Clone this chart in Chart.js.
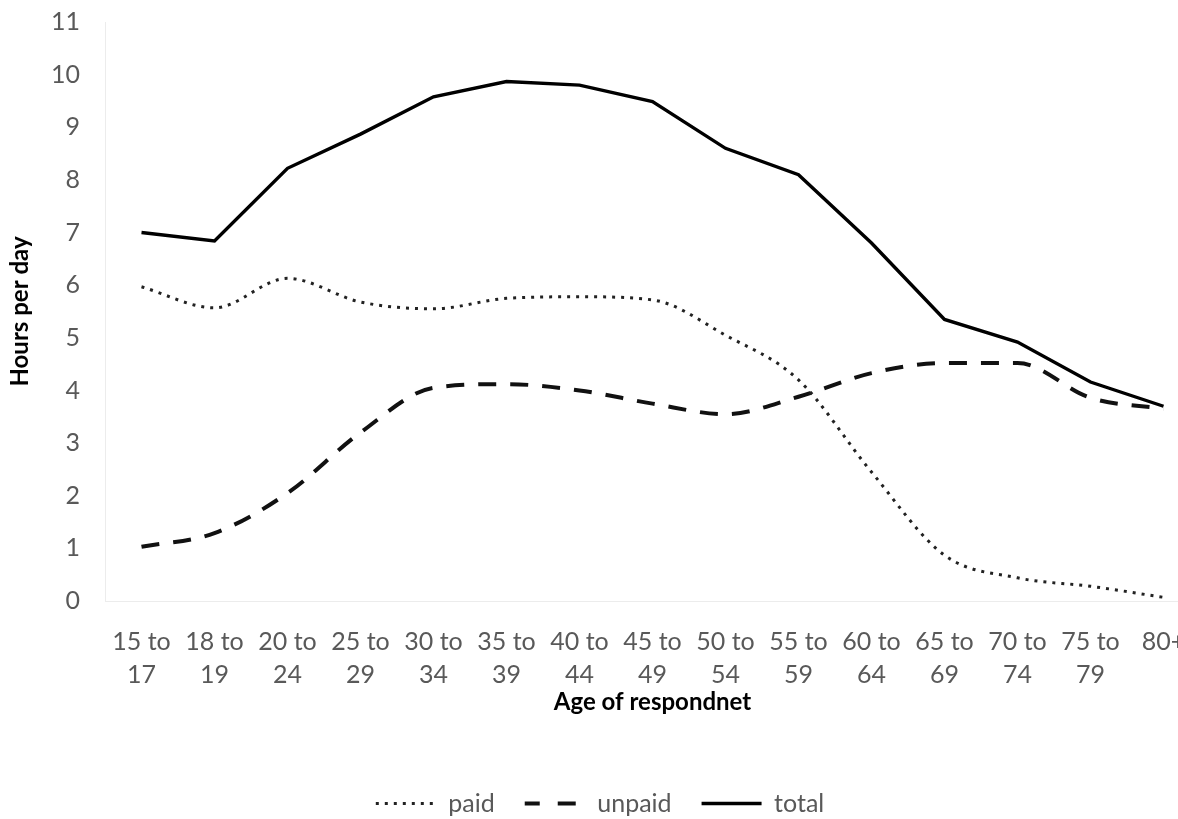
<!DOCTYPE html>
<html>
<head>
<meta charset="utf-8">
<script src="https://cdn.jsdelivr.net/npm/chart.js@4/dist/chart.umd.min.js"></script>
<style>
  html, body { margin: 0; padding: 0; background: #fff; overflow: hidden; }
  #wrap { width: 1200px; height: 819px; }
</style>
</head>
<body>
<div id="wrap"><canvas id="c" width="1200" height="819"></canvas></div>
<script>
// Hours per day spent working, by age group
const ageGroups = [
  ['15 to', '17'], ['18 to', '19'], ['20 to', '24'], ['25 to', '29'], ['30 to', '34'],
  ['35 to', '39'], ['40 to', '44'], ['45 to', '49'], ['50 to', '54'], ['55 to', '59'],
  ['60 to', '64'], ['65 to', '69'], ['70 to', '74'], ['75 to', '79'], ['80+']
];
const paid   = [5.97, 5.57, 6.13, 5.68, 5.55, 5.75, 5.78, 5.72, 5.05, 4.20, 2.45, 0.87, 0.44, 0.28, 0.07];
const unpaid = [1.03, 1.29, 2.05, 3.20, 4.05, 4.12, 4.00, 3.75, 3.55, 3.88, 4.33, 4.52, 4.52, 3.86, 3.65];
const total  = [7.00, 6.84, 8.22, 8.87, 9.58, 9.87, 9.80, 9.49, 8.60, 8.10, 6.80, 5.35, 4.92, 4.16, 3.70];
const yTicks = [0, 1, 2, 3, 4, 5, 6, 7, 8, 9, 10, 11];

const tickColor = '#595959';
const baseFont = 'Lato, "Open Sans", sans-serif';

// Legend swatches are drawn as zero-height boxes; dash patterns are chosen so
// the outgoing and returning strokes of the box outline land on each other.
const legendDash = {
  paid:   { dash: [3, 6],   offset: 0 },
  unpaid: { dash: [18, 18], offset: 3 },
  total:  { dash: [],       offset: 0 }
};
const defaultLabels = Chart.defaults.plugins.legend.labels.generateLabels;

new Chart(document.getElementById('c'), {
  type: 'line',
  data: {
    labels: ageGroups,
    datasets: [
      { label: 'paid', data: paid, borderColor: '#222', backgroundColor: 'transparent',
        borderWidth: 3, borderDash: [3, 6], cubicInterpolationMode: 'monotone', pointRadius: 0 },
      { label: 'unpaid', data: unpaid, borderColor: '#111', backgroundColor: 'transparent',
        borderWidth: 4, borderDash: [18, 14], cubicInterpolationMode: 'monotone', pointRadius: 0 },
      { label: 'total', data: total, borderColor: '#000', backgroundColor: 'transparent',
        borderWidth: 3.4, tension: 0, pointRadius: 0 }
    ]
  },
  options: {
    responsive: false,
    animation: false,
    layout: { padding: { top: 22, right: 0, bottom: -7, left: 0 } },
    plugins: {
      tooltip: { enabled: false },
      legend: {
        position: 'bottom',
        labels: {
          boxWidth: 60,
          boxHeight: 0,
          padding: 30,
          color: tickColor,
          font: { family: baseFont, size: 25 },
          generateLabels: (chart) => defaultLabels(chart).map(item => {
            const d = legendDash[item.text];
            return Object.assign(item, { lineDash: d.dash, lineDashOffset: d.offset });
          })
        }
      }
    },
    scales: {
      x: {
        offset: true,
        grid: { display: false, drawTicks: true, tickLength: 24 },
        border: { display: true, color: '#ececec', width: 1 },
        ticks: {
          color: tickColor, padding: 0, maxRotation: 0, autoSkip: false,
          font: { family: baseFont, size: 25, lineHeight: 1.32 }
        },
        title: {
          display: true, text: 'Age of respondnet', color: '#000',
          font: { family: baseFont, size: 24, weight: 'bold' },
          padding: { top: 0, bottom: 44 }
        },
        afterFit: (s) => { s.height = 160; }
      },
      y: {
        min: 0, max: 11,
        afterBuildTicks: (s) => { s.ticks = yTicks.map(v => ({ value: v })); },
        grid: { display: false, drawTicks: true, tickLength: 25 },
        border: { display: true, color: '#ececec', width: 1 },
        ticks: { color: tickColor, padding: 0, font: { family: baseFont, size: 25 } },
        title: {
          display: true, text: 'Hours per day', color: '#000',
          font: { family: baseFont, size: 24, weight: 'bold' },
          padding: { top: 6, bottom: 0 }
        },
        afterFit: (s) => { s.width = 105; }
      }
    }
  }
});
</script>
</body>
</html>
